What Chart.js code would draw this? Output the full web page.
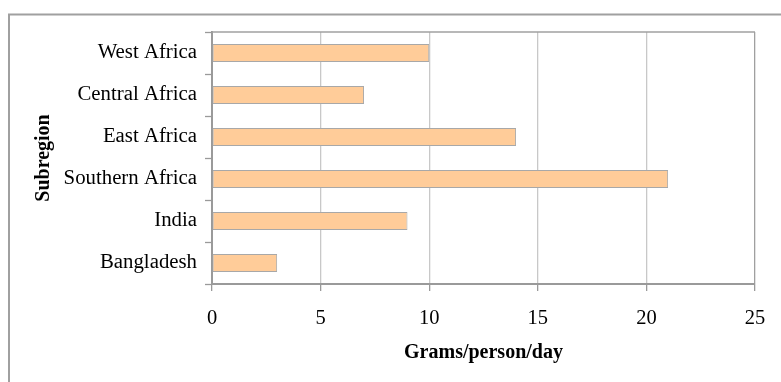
<!DOCTYPE html>
<html>
<head>
<meta charset="utf-8">
<script src="https://cdn.jsdelivr.net/npm/chart.js@4.4.0/dist/chart.umd.min.js"></script>
<style>
  html, body { margin: 0; padding: 0; background: #ffffff; }
  #wrap { width: 781px; height: 382px; position: relative; }
</style>
</head>
<body>
<div id="wrap"><canvas id="c" width="781" height="382"></canvas></div>
<script>
// Consumption by subregion (grams per person per day)
const subregions = ["West Africa", "Central Africa", "East Africa", "Southern Africa", "India", "Bangladesh"];
const gramsPerDay = [10, 7, 14, 21, 9, 3];
const xTicks = [0, 5, 10, 15, 20, 25];

const axisGray = '#9a9a9a';
const gridGray = '#c8c8c8';
const serif = "'Liberation Serif', 'Times New Roman', serif";

// Frame around the chart and the top edge of the plot area
const framePlugin = {
  id: 'frame',
  beforeDraw(chart) {
    const ctx = chart.ctx;
    ctx.save();
    ctx.strokeStyle = '#a0a0a0';
    ctx.lineWidth = 2;
    ctx.strokeRect(9, 14.5, 1000, 1000);
    ctx.restore();
  },
  afterDraw(chart) {
    const a = chart.chartArea;
    const ctx = chart.ctx;
    ctx.save();
    ctx.strokeStyle = '#a0a0a0';
    ctx.lineWidth = 1.5;
    ctx.beginPath();
    ctx.moveTo(a.left, a.top);
    ctx.lineTo(a.right, a.top);
    ctx.stroke();
    ctx.restore();
  }
};

new Chart(document.getElementById('c'), {
  type: 'bar',
  data: {
    labels: subregions,
    datasets: [{
      data: gramsPerDay,
      backgroundColor: '#FFCC99',
      borderColor: '#a8a8a8',
      borderWidth: 1,
      borderSkipped: false,
      barPercentage: 0.43,
      categoryPercentage: 1.0
    }]
  },
  options: {
    indexAxis: 'y',
    responsive: false,
    animation: false,
    devicePixelRatio: 1,
    layout: { padding: { left: 10, top: 32, right: 26, bottom: 0 } },
    plugins: {
      legend: { display: false },
      tooltip: { enabled: false }
    },
    scales: {
      x: {
        type: 'linear',
        min: 0,
        max: 25,
        afterBuildTicks(scale) {
          scale.ticks = xTicks.map(v => ({ value: v }));
        },
        afterFit(scale) { scale.height = 98; },
        grid: {
          color: ctx => (ctx.index === xTicks.length - 1 ? '#a0a0a0' : gridGray),
          lineWidth: 1.3,
          drawTicks: true,
          tickLength: 7,
          tickColor: axisGray,
          tickWidth: 1.3
        },
        border: { display: true, color: axisGray, width: 2 },
        ticks: {
          color: '#000000',
          padding: 15,
          font: { family: serif, size: 20.5 }
        },
        title: {
          display: true,
          text: 'Grams/person/day',
          color: '#000000',
          font: { family: serif, size: 20, weight: 'bold' },
          padding: { top: 0, bottom: 17 }
        }
      },
      y: {
        type: 'category',
        offset: true,
        afterFit(scale) { scale.width = 202; },
        grid: {
          offset: true,
          drawOnChartArea: false,
          drawTicks: true,
          tickLength: 7,
          tickColor: axisGray,
          tickWidth: 1.3
        },
        border: { display: true, color: axisGray, width: 2 },
        ticks: {
          color: '#000000',
          padding: 8,
          font: { family: serif, size: 20.8 }
        },
        title: {
          display: true,
          text: 'Subregion',
          color: '#000000',
          font: { family: serif, size: 20, weight: 'bold' },
          padding: { top: 22, bottom: 0 }
        }
      }
    }
  },
  plugins: [framePlugin]
});
</script>
</body>
</html>
